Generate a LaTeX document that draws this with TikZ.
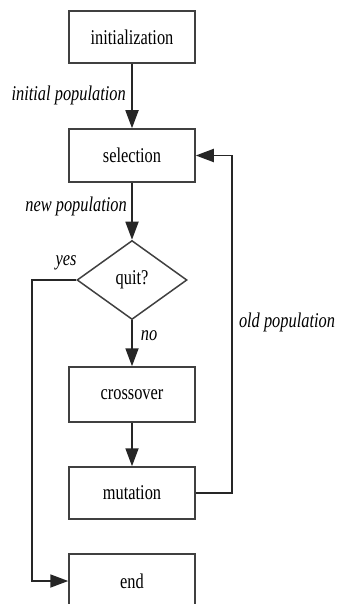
\documentclass[tikz,border=0pt]{standalone}
\usepackage{fontspec}
\setmainfont[FakeStretch=0.78]{Liberation Serif}
\usetikzlibrary{shapes.geometric,arrows.meta}
\begin{document}
\begin{tikzpicture}[x=1pt,y=1pt,
  box/.style={draw=black!75,line width=1.5pt,minimum width=126pt,inner sep=0pt,font=\fontsize{21}{24}\selectfont},
  dec/.style={draw=black!75,line width=1.5pt,diamond,minimum width=110pt,minimum height=79pt,inner sep=0pt,font=\fontsize{21}{24}\selectfont},
  lab/.style={font=\fontsize{21}{24}\selectfont\itshape,inner sep=0pt},
  conn/.style={draw=black!85,line width=1.8pt,-{Triangle[length=18pt,width=13pt]}}]
\useasboundingbox (0,0) rectangle (339,-604);
\begin{scope}
\clip (0,0) rectangle (339,-604);
\node[box,minimum height=52pt] (init) at (132,-37) {initialization};
\node[box,minimum height=53pt] (sel) at (132,-155.5) {selection};
\node[dec] (quit) at (132,-280) {quit?};
\node[box,minimum height=55pt] (cross) at (132,-394.5) {crossover};
\node[box,minimum height=52pt] (mut) at (132,-493) {mutation};
\node[box,minimum height=54pt] (end) at (132,-581) {end};
\coordinate (y1) at (32,-280);
\coordinate (y2) at (32,-581);
\coordinate (o1) at (232,-493);
\coordinate (o2) at (232,-155.5);
\draw[conn] (init) -- (sel);
\draw[conn] (sel) -- (quit);
\draw[conn] (quit) -- (cross);
\draw[conn] (cross) -- (mut);
\draw[conn] (quit.west) -- (y1) -- (y2) -- (end.west);
\draw[conn] (mut.east) -- (o1) -- (o2) -- (sel.east);
\node[lab,anchor=east] (l1) at (126,-95) {initial population};
\node[lab,anchor=east] (l2) at (127,-206) {new population};
\node[lab] (l3) at (66,-263) {yes};
\node[lab] (l4) at (149,-336) {no};
\node[lab] (l5) at (287,-322) {old population};
\end{scope}
\end{tikzpicture}
\end{document}
